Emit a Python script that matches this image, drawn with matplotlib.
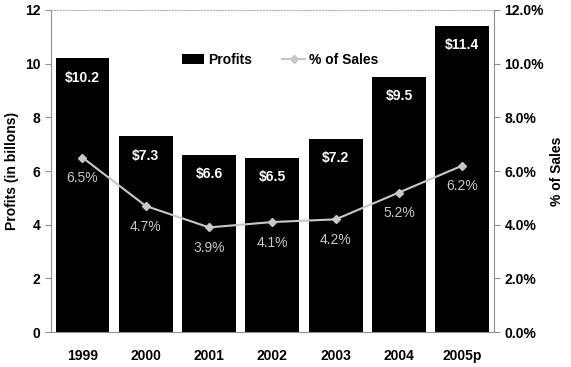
import matplotlib.pyplot as plt
from matplotlib.ticker import FuncFormatter
from matplotlib.lines import Line2D
from matplotlib.patches import Patch

plt.rcParams['font.family'] = ['Liberation Sans', 'DejaVu Sans']
plt.rcParams['font.weight'] = 'bold'

# Data
years = ['1999', '2000', '2001', '2002', '2003', '2004', '2005p']
profits = [10.2, 7.3, 6.6, 6.5, 7.2, 9.5, 11.4]
profit_labels = ['$10.2', '$7.3', '$6.6', '$6.5', '$7.2', '$9.5', '$11.4']
pct_sales = [6.5, 4.7, 3.9, 4.1, 4.2, 5.2, 6.2]

line_col = '#c8c8c8'
spine_col = '#909090'

fig = plt.figure(figsize=(5.71, 3.67), dpi=100)
ax = fig.add_axes([0.089, 0.095, 0.776, 0.878])
x = range(len(years))
ax.bar(x, profits, width=0.85, color='black', zorder=2)
for i, (v, lab) in enumerate(zip(profits, profit_labels)):
    ax.annotate(lab, (i, v), xytext=(0, -14), textcoords='offset points',
                ha='center', va='center', color='white', fontsize=10, fontweight='bold')

ax.set_xlim(-0.5, len(years) - 0.5)
ax.set_ylim(0, 12)
ax.set_yticks([0, 2, 4, 6, 8, 10, 12])
ax.set_xticks(list(x))
ax.set_xticklabels(years, fontsize=10, fontweight='bold')
ax.tick_params(axis='x', length=0, pad=12)
ax.tick_params(axis='y', labelsize=10, length=4, color=spine_col, direction='out')
ax.set_ylabel('Profits (in billons)', fontsize=10, fontweight='bold')
for s in ['left', 'bottom']:
    ax.spines[s].set_color(spine_col)
ax.spines['right'].set_visible(False)
ax.spines['top'].set_color('#b0b0b0')
ax.spines['top'].set_linestyle(':')

ax2 = ax.twinx()
ax2.plot(list(x), pct_sales, color=line_col, lw=1.5, marker='D', markersize=4,
         markerfacecolor=line_col, markeredgecolor=line_col, zorder=3)
for i, v in enumerate(pct_sales):
    ax2.annotate(f'{v:.1f}%', (i, v), xytext=(0, -15), textcoords='offset points',
                 ha='center', va='center', color=line_col, fontsize=10, fontweight='normal')
ax2.set_ylim(0, 12)
ax2.set_yticks([0, 2, 4, 6, 8, 10, 12])
ax2.yaxis.set_major_formatter(FuncFormatter(lambda v, p: f'{v:.1f}%'))
ax2.tick_params(axis='y', labelsize=10, length=4, color=spine_col, direction='out')
ax2.set_ylabel('% of Sales', fontsize=10, fontweight='bold')
ax2.spines['right'].set_color(spine_col)
ax2.spines['left'].set_visible(False)
ax2.spines['bottom'].set_visible(False)
ax2.spines['top'].set_visible(False)

handles = [Patch(facecolor='black', label='Profits'),
           Line2D([0], [0], color=line_col, lw=1.5, marker='D', markersize=4, label='% of Sales')]
ax2.legend(handles=handles, loc='center', bbox_to_anchor=(0.517, 0.845), ncol=2,
           frameon=False, fontsize=10, handlelength=1.6, columnspacing=2.2, handletextpad=0.3)

fig.savefig('out.png', dpi=100)
